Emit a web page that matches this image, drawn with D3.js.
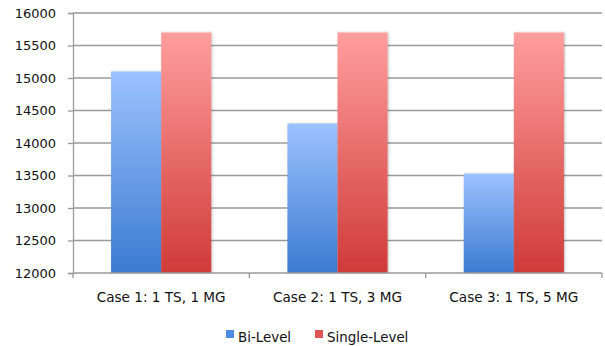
<!DOCTYPE html>
<html>
<head>
<meta charset="utf-8">
<script src="https://cdn.jsdelivr.net/npm/d3@7/dist/d3.min.js"></script>
<style>
  html, body { margin: 0; padding: 0; background: #fff; }
  svg { display: block; }
  text { font-family: "DejaVu Sans", Verdana, sans-serif; fill: #111; }
</style>
</head>
<body>
<svg id="chart" width="605" height="346"></svg>
<script>
// Categories, series and axis ticks
const categories = ["Case 1: 1 TS, 1 MG", "Case 2: 1 TS, 3 MG", "Case 3: 1 TS, 5 MG"];
const seriesNames = ["Bi-Level", "Single-Level"];
const biLevel = [15100, 14300, 13530];
const singleLevel = [15700, 15700, 15700];
const yTicks = [12000, 12500, 13000, 13500, 14000, 14500, 15000, 15500, 16000];

const series = [
  { name: seriesNames[0], values: biLevel, top: "#9cc2ff", bottom: "#3b7bd0", key: "#4f8be0" },
  { name: seriesNames[1], values: singleLevel, top: "#ff9e9e", bottom: "#cf3b38", key: "#e05553" }
];

const svg = d3.select("#chart");
const margin = { left: 73, right: 3, top: 13, bottom: 73 };
const W = 605, H = 346;

const x = d3.scaleBand().domain(categories).range([margin.left, W - margin.right]).padding(0);
const inner = d3.scaleBand().domain(seriesNames).range([0, x.bandwidth()]).paddingInner(0).paddingOuter(0.76);
const y = d3.scaleLinear().domain([12000, 16000]).range([H - margin.bottom, margin.top]);

// Gradients for bars
const defs = svg.append("defs");
series.forEach((s, i) => {
  const g = defs.append("linearGradient").attr("id", "grad" + i)
    .attr("x1", 0).attr("y1", 0).attr("x2", 0).attr("y2", 1);
  g.append("stop").attr("offset", "0%").attr("stop-color", s.top);
  g.append("stop").attr("offset", "100%").attr("stop-color", s.bottom);
});
const shadow = defs.append("filter").attr("id", "shadow")
  .attr("x", "-20%").attr("y", "-10%").attr("width", "140%").attr("height", "120%");
shadow.append("feDropShadow").attr("dx", 1).attr("dy", 0).attr("stdDeviation", 1)
  .attr("flood-color", "#000").attr("flood-opacity", 0.25);

// Horizontal gridlines and y axis
const yAxis = d3.axisLeft(y).tickValues(yTicks).tickSize(5).tickPadding(12).tickFormat(d3.format("d"));
const gy = svg.append("g").attr("transform", `translate(${margin.left},0)`).call(yAxis);
gy.select(".domain").attr("stroke", "#9a9a9a").attr("stroke-width", 1.3);
gy.selectAll(".tick line").attr("stroke", "#9a9a9a").attr("stroke-width", 1.3);
gy.selectAll(".tick text").style("font-size", "13px").attr("fill", "#111");

svg.append("g").selectAll("line").data(yTicks.filter(t => t > 12000)).join("line")
  .attr("x1", margin.left).attr("x2", W - margin.right)
  .attr("y1", d => y(d)).attr("y2", d => y(d))
  .attr("stroke", "#9a9a9a").attr("stroke-width", 1.3);

// Bars
series.forEach((s, i) => {
  svg.append("g").selectAll("rect").data(s.values).join("rect")
    .attr("x", (d, j) => x(categories[j]) + inner(s.name))
    .attr("width", inner.bandwidth())
    .attr("y", d => y(d))
    .attr("height", d => y(12000) - y(d))
    .attr("fill", `url(#grad${i})`)
    .attr("filter", "url(#shadow)");
});

// X axis with ticks at category boundaries
const bottomY = y(12000);
const gx = svg.append("g");
gx.append("line").attr("x1", margin.left).attr("x2", W - margin.right)
  .attr("y1", bottomY).attr("y2", bottomY).attr("stroke", "#9a9a9a").attr("stroke-width", 1.3);
const bounds = categories.map(c => x(c)).concat([x(categories[categories.length - 1]) + x.bandwidth()]);
gx.selectAll("line.tk").data(bounds).join("line").attr("class", "tk")
  .attr("x1", d => d).attr("x2", d => d).attr("y1", bottomY).attr("y2", bottomY + 5)
  .attr("stroke", "#9a9a9a").attr("stroke-width", 1.3);
gx.selectAll("text").data(categories).join("text")
  .attr("x", d => x(d) + x.bandwidth() / 2).attr("y", 302)
  .attr("text-anchor", "middle").style("font-size", "13.6px").text(d => d);

// Legend
const legend = svg.append("g");
const legendItems = [{ s: series[0], x: 226 }, { s: series[1], x: 315 }];
legendItems.forEach(it => {
  legend.append("rect").attr("x", it.x).attr("y", 330).attr("width", 8).attr("height", 8).attr("fill", it.s.key);
  legend.append("text").attr("x", it.x + 12).attr("y", 342).style("font-size", "13.4px").text(it.s.name);
});
</script>
</body>
</html>
